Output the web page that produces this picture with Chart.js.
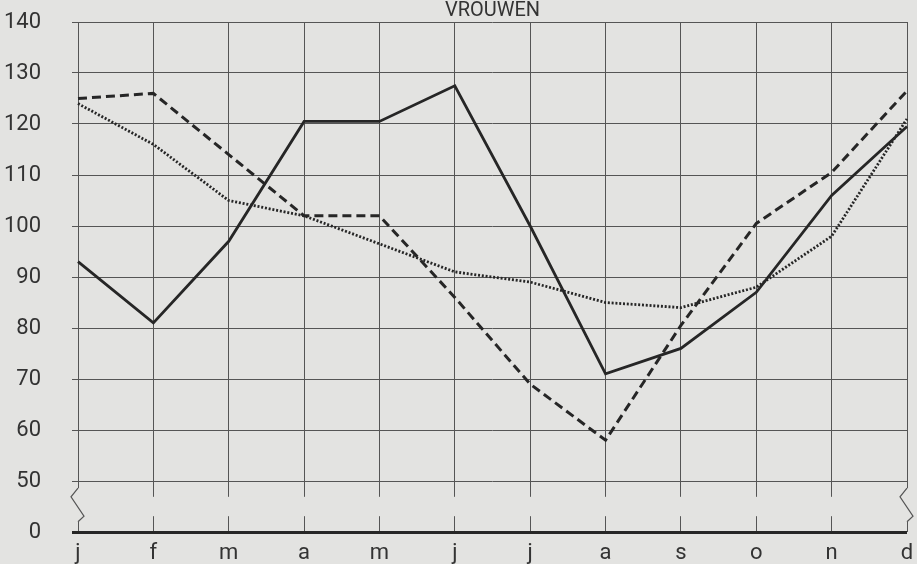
<!DOCTYPE html>
<html>
<head>
<meta charset="utf-8">
<script src="https://cdn.jsdelivr.net/npm/chart.js@4"></script>
<style>
    body { margin: 0; background: #e3e3e1; }
    canvas { display: block; }
</style>
</head>
<body>
<canvas id="grafiek" width="917" height="564"></canvas>
<script>
const maanden = ['j', 'f', 'm', 'a', 'm', 'j', 'j', 'a', 's', 'o', 'n', 'd'];
const lijnDoorgetrokken = [93, 81, 97, 120.5, 120.5, 127.5, 100, 71, 76, 87, 106, 119.5];
const lijnGestreept = [125, 126, 114, 102, 102, 86, 69, 58, 80.5, 100.5, 110.5, 126.5];
const lijnGestippeld = [124, 116, 105, 102, 96.5, 91, 89, 85, 84, 88, 98, 121];
// de as loopt van 50 tot 140, daaronder een onderbreking en dan 0 (getekend op plek 40)
const yTicks = [40, 50, 60, 70, 80, 90, 100, 110, 120, 130, 140];

const achtergrond = '#e3e3e1';
const inkt = '#262626';
const rooster = '#555555';

// onderbreking van de as tussen 50 en 0
const asBreuk = {
    id: 'asBreuk',
    beforeDatasetsDraw(chart) {
        const { ctx, chartArea, scales } = chart;
        const y = scales.y;
        const boven = y.getPixelForValue(46.9);
        const onder = y.getPixelForValue(43.1);
        ctx.save();
        ctx.fillStyle = achtergrond;
        ctx.fillRect(chartArea.left - 2, boven, chartArea.right - chartArea.left + 4, onder - boven);
        [chartArea.left, chartArea.right].forEach(x => {
            ctx.fillRect(x - 2, y.getPixelForValue(48.6), 4, y.getPixelForValue(42) - y.getPixelForValue(48.6));
            ctx.beginPath();
            ctx.moveTo(x, y.getPixelForValue(48.6));
            ctx.lineTo(x - 7, y.getPixelForValue(46.9));
            ctx.lineTo(x + 6, y.getPixelForValue(43.1));
            ctx.lineTo(x, y.getPixelForValue(42));
            ctx.strokeStyle = rooster;
            ctx.lineWidth = 1.2;
            ctx.stroke();
        });
        ctx.restore();
    }
};

const lijn = (label, data, dash, breedte) => ({
    label: label,
    data: data,
    borderColor: inkt,
    borderWidth: breedte,
    borderDash: dash,
    pointRadius: 0,
    tension: 0,
    fill: false
});

new Chart(document.getElementById('grafiek'), {
    type: 'line',
    data: {
        labels: maanden,
        datasets: [
            lijn('doorgetrokken', lijnDoorgetrokken, [], 2.8),
            lijn('gestreept', lijnGestreept, [9, 5], 3),
            lijn('gestippeld', lijnGestippeld, [2, 1.8], 2.8)
        ]
    },
    options: {
        responsive: false,
        devicePixelRatio: 1,
        animation: false,
        layout: { padding: { left: 0, right: 10, top: 0, bottom: 0 } },
        plugins: {
            legend: { display: false },
            tooltip: { enabled: false },
            title: {
                display: true,
                text: 'VROUWEN',
                fullSize: false,
                color: '#333333',
                font: { family: 'Roboto', size: 20, weight: 'normal', lineHeight: 1.05 },
                padding: { top: 0, bottom: 1 }
            }
        },
        scales: {
            x: {
                offset: false,
                border: { display: false },
                grid: { color: rooster, lineWidth: 1, tickLength: 0 },
                ticks: {
                    color: '#333333',
                    font: { family: 'Roboto', size: 22 },
                    padding: 8,
                    maxRotation: 0,
                    autoSkip: false
                },
                afterFit: scale => {
                    scale.height = 32;
                    scale.paddingLeft = 0;
                    scale.paddingRight = 0;
                }
            },
            y: {
                min: 40,
                max: 140,
                border: { display: false },
                afterBuildTicks: scale => {
                    scale.ticks = yTicks.map(v => ({ value: v }));
                },
                grid: {
                    color: ctx => ctx.tick && ctx.tick.value === 40 ? inkt : rooster,
                    lineWidth: ctx => ctx.tick && ctx.tick.value === 40 ? 3 : 1,
                    tickLength: 6
                },
                ticks: {
                    color: '#333333',
                    font: { family: 'Roboto', size: 22 },
                    padding: 31,
                    callback: v => v === 40 ? '0' : v
                },
                afterFit: scale => {
                    scale.width = 78;
                    scale.paddingTop = 0;
                    scale.paddingBottom = 0;
                }
            }
        }
    },
    plugins: [asBreuk]
});
</script>
</body>
</html>
